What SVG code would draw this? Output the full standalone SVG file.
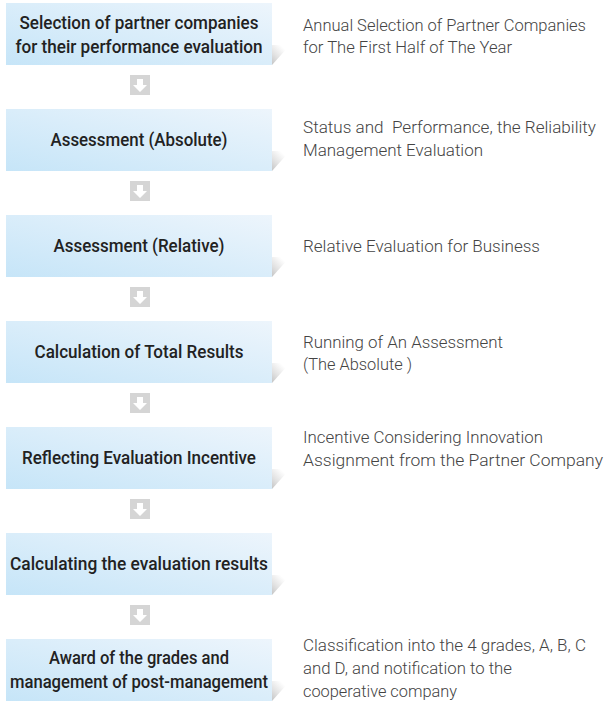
<svg xmlns="http://www.w3.org/2000/svg" width="609" height="706" viewBox="0 0 609 706">
<defs>
<linearGradient id="boxg" x1="0" y1="1" x2="1" y2="0">
<stop offset="0" stop-color="#c6e5f8"/>
<stop offset="1" stop-color="#edf5fc"/>
</linearGradient>
<linearGradient id="shg" x1="0" y1="1" x2="0.7" y2="0.2">
<stop offset="0" stop-color="#c4c4c4"/>
<stop offset="0.45" stop-color="#e2e2e2"/>
<stop offset="1" stop-color="#ffffff"/>
</linearGradient>
<g id="arrow">
<rect x="0" y="0" width="20" height="20" fill="#d5d5d5"/>
<path d="M7,4 H13 V10 H17 L10,17 L3,10 H7 Z" fill="#ffffff"/>
</g>
</defs>
<style>
.box{fill:url(#boxg)}
.sh{fill:url(#shg)}
.lt{font-family:Roboto,"Liberation Sans Narrow","DejaVu Sans Condensed",sans-serif;font-size:19px;font-weight:500;fill:#222222;text-anchor:middle}
.rt{font-family:Roboto,"Liberation Sans Narrow","DejaVu Sans Condensed",sans-serif;font-size:17px;font-weight:300;fill:#444444;white-space:pre}
</style>
<rect width="609" height="706" fill="#ffffff"/>
<g id="connectors">
<use href="#arrow" x="130" y="75"/>
<use href="#arrow" x="130" y="181"/>
<use href="#arrow" x="130" y="287"/>
<use href="#arrow" x="130" y="393"/>
<use href="#arrow" x="130" y="499"/>
<use href="#arrow" x="130" y="605"/>
</g>
<g id="node1">
<polygon class="sh" points="272,45 290,45 272,65"/>
<rect class="box" x="6" y="3" width="266" height="62"/>
<text class="lt" x="139" y="29" textLength="239" lengthAdjust="spacingAndGlyphs">Selection of partner companies</text>
<text class="lt" x="139" y="53" textLength="247" lengthAdjust="spacingAndGlyphs">for their performance evaluation</text>
<text class="rt" x="303" y="31" textLength="283" lengthAdjust="spacingAndGlyphs">Annual Selection of Partner Companies</text>
<text class="rt" x="303" y="53" textLength="209" lengthAdjust="spacingAndGlyphs">for The First Half of The Year</text>
</g>
<g id="node2">
<polygon class="sh" points="272,151 290,151 272,171"/>
<rect class="box" x="6" y="109" width="266" height="62"/>
<text class="lt" x="139" y="146" textLength="177" lengthAdjust="spacingAndGlyphs">Assessment (Absolute)</text>
<text class="rt" x="303" y="133" textLength="293" lengthAdjust="spacingAndGlyphs">Status and  Performance, the Reliability</text>
<text class="rt" x="303" y="156" textLength="180" lengthAdjust="spacingAndGlyphs">Management Evaluation</text>
</g>
<g id="node3">
<polygon class="sh" points="272,257 290,257 272,277"/>
<rect class="box" x="6" y="215" width="266" height="62"/>
<text class="lt" x="139" y="252" textLength="171" lengthAdjust="spacingAndGlyphs">Assessment (Relative)</text>
<text class="rt" x="303" y="252" textLength="237" lengthAdjust="spacingAndGlyphs">Relative Evaluation for Business</text>
</g>
<g id="node4">
<polygon class="sh" points="272,363 290,363 272,383"/>
<rect class="box" x="6" y="321" width="266" height="62"/>
<text class="lt" x="139" y="358" textLength="209" lengthAdjust="spacingAndGlyphs">Calculation of Total Results</text>
<text class="rt" x="303" y="348" textLength="200" lengthAdjust="spacingAndGlyphs">Running of An Assessment</text>
<text class="rt" x="303" y="370" textLength="109" lengthAdjust="spacingAndGlyphs">(The Absolute )</text>
</g>
<g id="node5">
<polygon class="sh" points="272,469 290,469 272,489"/>
<rect class="box" x="6" y="427" width="266" height="62"/>
<text class="lt" x="139" y="464" textLength="234" lengthAdjust="spacingAndGlyphs">Reflecting Evaluation Incentive</text>
<text class="rt" x="303" y="443" textLength="240" lengthAdjust="spacingAndGlyphs">Incentive Considering Innovation</text>
<text class="rt" x="303" y="466" textLength="300" lengthAdjust="spacingAndGlyphs">Assignment from the Partner Company</text>
</g>
<g id="node6">
<polygon class="sh" points="272,575 290,575 272,595"/>
<rect class="box" x="6" y="533" width="266" height="62"/>
<text class="lt" x="139" y="570" textLength="258" lengthAdjust="spacingAndGlyphs">Calculating the evaluation results</text>
</g>
<g id="node7">
<polygon class="sh" points="272,681 290,681 272,701"/>
<rect class="box" x="6" y="639" width="266" height="62"/>
<text class="lt" x="139" y="664" textLength="180" lengthAdjust="spacingAndGlyphs">Award of the grades and</text>
<text class="lt" x="139" y="688" textLength="258" lengthAdjust="spacingAndGlyphs">management of post-management</text>
<text class="rt" x="303" y="651" textLength="283" lengthAdjust="spacingAndGlyphs">Classification into the 4 grades, A, B, C</text>
<text class="rt" x="303" y="674" textLength="209" lengthAdjust="spacingAndGlyphs">and D, and notification to the</text>
<text class="rt" x="303" y="697" textLength="154" lengthAdjust="spacingAndGlyphs">cooperative company</text>
</g>
</svg>
